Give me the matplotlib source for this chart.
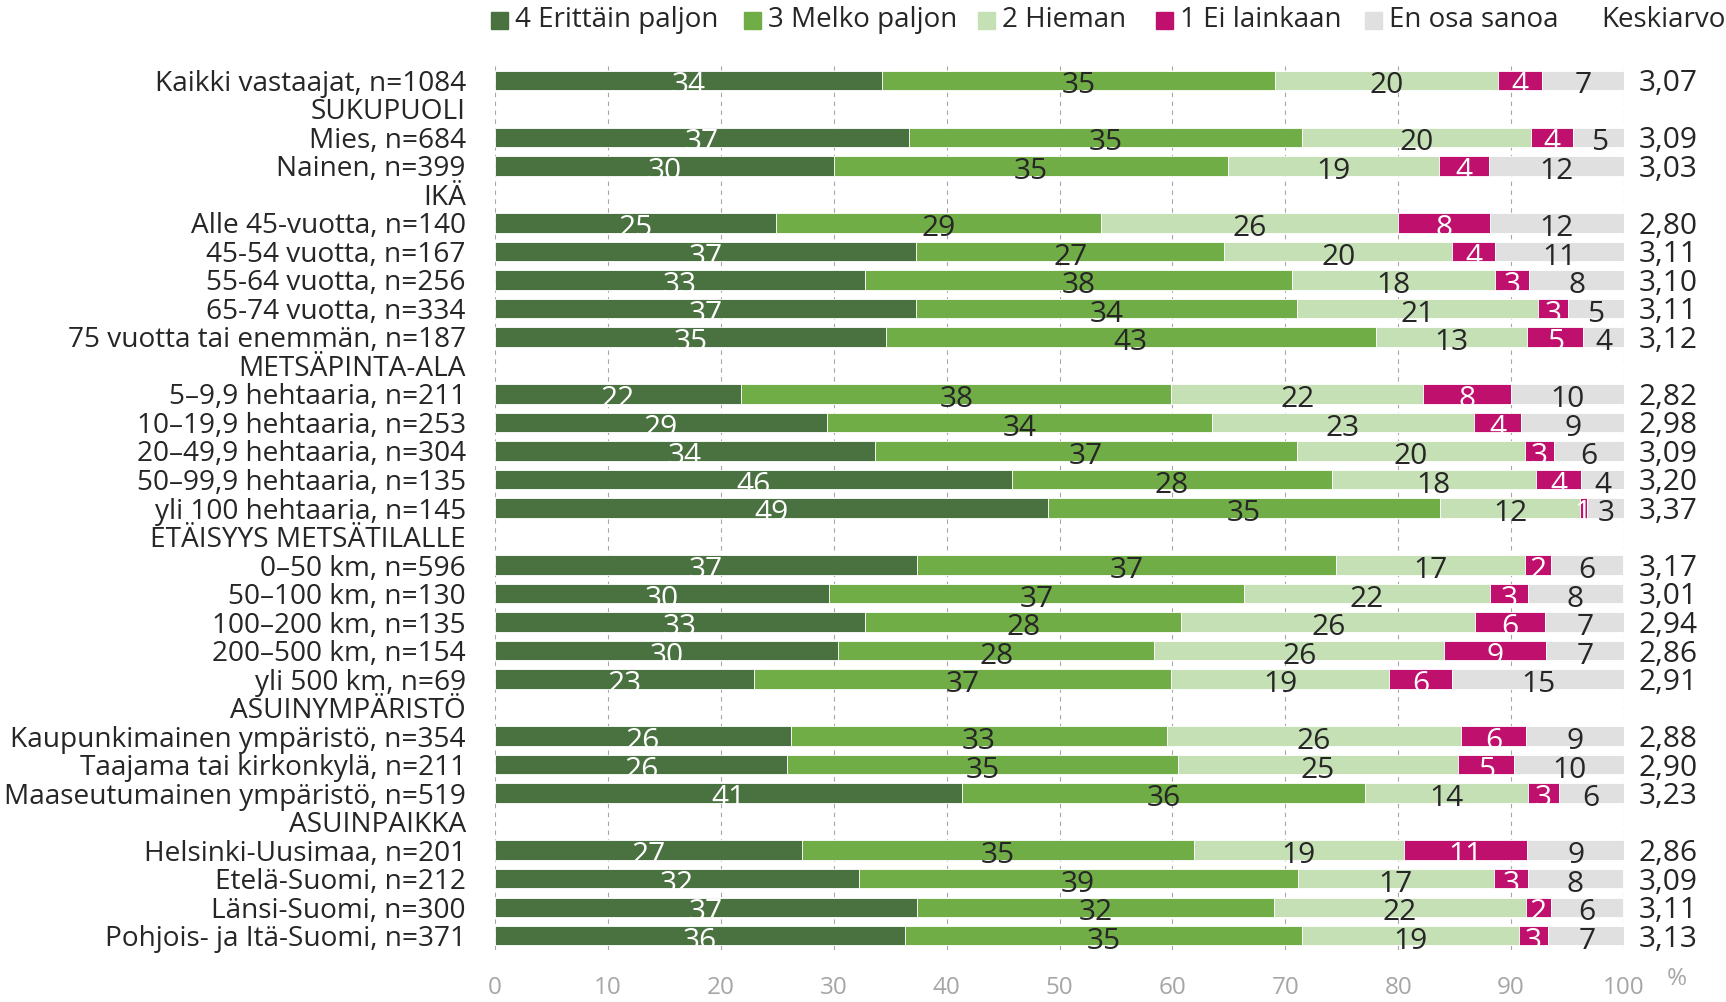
import numpy as np
import matplotlib.pyplot as plt
from matplotlib.patches import Rectangle
from matplotlib.transforms import blended_transform_factory

plt.rcParams['font.family'] = ['Open Sans', 'DejaVu Sans']

# rows from top to bottom, group headers have no bar
row_labels = [
    "Kaikki vastaajat, n=1084",
    "SUKUPUOLI",
    "Mies, n=684",
    "Nainen, n=399",
    "IKÄ",
    "Alle 45-vuotta, n=140",
    "45-54 vuotta, n=167",
    "55-64 vuotta, n=256",
    "65-74 vuotta, n=334",
    "75 vuotta tai enemmän, n=187",
    "METSÄPINTA-ALA",
    "5–9,9 hehtaaria, n=211",
    "10–19,9 hehtaaria, n=253",
    "20–49,9 hehtaaria, n=304",
    "50–99,9 hehtaaria, n=135",
    "yli 100 hehtaaria, n=145",
    "ETÄISYYS METSÄTILALLE",
    "0–50 km, n=596",
    "50–100 km, n=130",
    "100–200 km, n=135",
    "200–500 km, n=154",
    "yli 500 km, n=69",
    "ASUINYMPÄRISTÖ",
    "Kaupunkimainen ympäristö, n=354",
    "Taajama tai kirkonkylä, n=211",
    "Maaseutumainen ympäristö, n=519",
    "ASUINPAIKKA",
    "Helsinki-Uusimaa, n=201",
    "Etelä-Suomi, n=212",
    "Länsi-Suomi, n=300",
    "Pohjois- ja Itä-Suomi, n=371",
]
header_labels = ["SUKUPUOLI", "IKÄ", "METSÄPINTA-ALA", "ETÄISYYS METSÄTILALLE",
                 "ASUINYMPÄRISTÖ", "ASUINPAIKKA"]

# percentages for the 25 data rows
v4 = [34.3, 36.7, 30.0, 24.9, 37.3, 32.8, 37.3, 34.6, 21.8, 29.4, 33.7, 45.8, 49.0,
      37.4, 29.6, 32.8, 30.4, 22.9, 26.2, 25.9, 41.4, 27.2, 32.2, 37.4, 36.3]
v3 = [34.8, 34.8, 34.9, 28.8, 27.3, 37.8, 33.7, 43.4, 38.1, 34.1, 37.3, 28.3, 34.7,
      37.1, 36.7, 28.0, 28.0, 37.0, 33.3, 34.6, 35.7, 34.7, 38.9, 31.6, 35.2]
v2 = [19.7, 20.3, 18.7, 26.3, 20.2, 18.0, 21.4, 13.4, 22.3, 23.2, 20.2, 18.1, 12.4,
      16.7, 21.8, 26.0, 25.7, 19.3, 26.1, 24.8, 14.4, 18.6, 17.4, 22.3, 19.2]
v1 = [3.9, 3.7, 4.4, 8.1, 3.8, 3.0, 2.6, 5.0, 7.8, 4.2, 2.6, 4.0, 0.6,
      2.3, 3.4, 6.2, 9.0, 5.6, 5.7, 5.0, 2.7, 10.9, 3.0, 2.2, 2.6]
veos = [7.3, 4.6, 12.0, 11.9, 11.4, 8.4, 5.0, 3.6, 10.0, 9.1, 6.2, 3.8, 3.4,
        6.4, 8.4, 7.1, 6.9, 15.3, 8.8, 9.7, 5.8, 8.7, 8.4, 6.4, 6.8]
keskiarvo = ["3,07", "3,09", "3,03", "2,80", "3,11", "3,10", "3,11", "3,12", "2,82",
             "2,98", "3,09", "3,20", "3,37", "3,17", "3,01", "2,94", "2,86", "2,91",
             "2,88", "2,90", "3,23", "2,86", "3,09", "3,11", "3,13"]

series = [
    ("4 Erittäin paljon", v4, "#4A7240", "white"),
    ("3 Melko paljon", v3, "#70AD47", "#262626"),
    ("2 Hieman", v2, "#C5E0B4", "#262626"),
    ("1 Ei lainkaan", v1, "#C0106E", "white"),
    ("En osa sanoa", veos, "#E0E0E0", "#262626"),
]

W, H = 1726, 1002
fig = plt.figure(figsize=(W / 100, H / 100), dpi=100)
ax = fig.add_axes([495 / W, 52 / H, 1129 / W, 884 / H])

y_all = np.arange(len(row_labels))
y = np.array([i for i, lab in enumerate(row_labels) if lab not in header_labels])

left = np.zeros(len(y))
for name, vals, color, tcolor in series:
    vals = np.array(vals)
    ax.barh(y, vals, left=left, height=0.68, color=color,
            edgecolor="white", linewidth=0.6, zorder=2)
    for yi, l, v in zip(y, left, vals):
        ax.text(l + v / 2, yi + 0.2, f"{v:.0f}", ha="center", va="center",
                color=tcolor, fontsize=21.5, zorder=3)
    left += vals

# mean column
tr = blended_transform_factory(ax.transAxes, ax.transData)
for yi, k in zip(y, keskiarvo):
    ax.text(1.039, yi + 0.12, k, transform=tr, ha="center", va="center",
            color="#262626", fontsize=21.5)

ax.set_xlim(0, 100)
ax.set_ylim(len(row_labels) - 0.5, -0.5)
ax.set_xticks(np.arange(0, 101, 10))
ax.set_yticks(y_all)
ax.set_yticklabels(row_labels)
ax.tick_params(axis="y", length=0, pad=21, labelsize=20.2, labelcolor="#262626")
ax.tick_params(axis="x", length=0, pad=19, labelsize=17.5, labelcolor="#A6A6A6")
ax.grid(axis="x", color="#A6A6A6", linestyle=(0, (4, 4)), linewidth=0.8, zorder=0)
ax.set_axisbelow(True)
for s in ax.spines.values():
    s.set_visible(False)

fig.text(1677 / W, 1 - 979 / H, "%", ha="center", va="center",
         color="#A6A6A6", fontsize=17.5)

# legend across the top
leg_x = [491, 744, 978, 1156, 1365]
for (name, vals, color, tcolor), lx in zip(series, leg_x):
    fig.patches.append(Rectangle((lx / W, 1 - 29 / H), 17 / W, 17 / H,
                                 transform=fig.transFigure, color=color))
    fig.text((lx + 24) / W, 1 - 20 / H, name, ha="left", va="center",
             color="#262626", fontsize=20)
fig.text(1663 / W, 1 - 20 / H, "Keskiarvo", ha="center", va="center",
         color="#262626", fontsize=20)

fig.savefig("out.png", dpi=100)
